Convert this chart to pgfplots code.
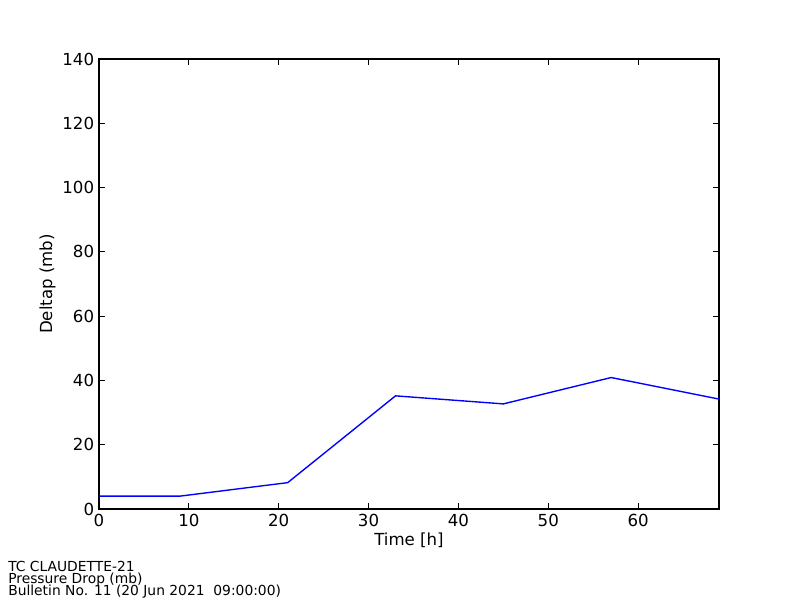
\documentclass[border=0pt]{standalone}
\usepackage{fontspec}
\setmainfont{DejaVu Sans}
\usepackage{pgfplots}
\pgfplotsset{compat=1.18}
\begin{document}
\begin{tikzpicture}
\useasboundingbox (0,0) rectangle (8in,6in);
\begin{axis}[
  at={(0.99in,0.91in)}, anchor=south west,
  scale only axis, width=6.2in, height=4.5in,
  xmin=0, xmax=69, ymin=0, ymax=140,
  xtick={0,10,...,60}, ytick={0,20,...,140},
  tick align=inside, major tick length=4pt,
  xtick pos=both, ytick pos=both,
  minor tick num=0,
  /pgf/number format/assume math mode=true,
  tick label style={font=\fontsize{12}{14}\selectfont},
  label style={font=\fontsize{12}{14}\selectfont},
  xlabel={Time [h]}, ylabel={Deltap (mb)},
  xlabel style={yshift=2pt},
  ylabel style={yshift=-2pt},
  axis line style={line width=0.8pt},
  every tick/.style={line width=0.6pt, black},
]
\addplot[color={rgb,1:red,0;green,0;blue,1}, line width=1pt, mark=none] coordinates {
(0,4.0) (9,4.0) (21,8.2) (33,35.2) (45,32.7) (57,40.9) (69,34.2)
};
\end{axis}
\node[anchor=base west, inner sep=0pt, font=\fontsize{10}{12}\selectfont] at (0.08in,0.29in) {TC CLAUDETTE-21};
\node[anchor=base west, inner sep=0pt, font=\fontsize{10}{12}\selectfont] at (0.08in,0.17in) {Pressure Drop (mb)};
\node[anchor=base west, inner sep=0pt, font=\fontsize{10}{12}\selectfont] at (0.08in,0.05in) {Bulletin No. 11 (20 Jun 2021\ \ 09:00:00)};
\end{tikzpicture}
\end{document}
